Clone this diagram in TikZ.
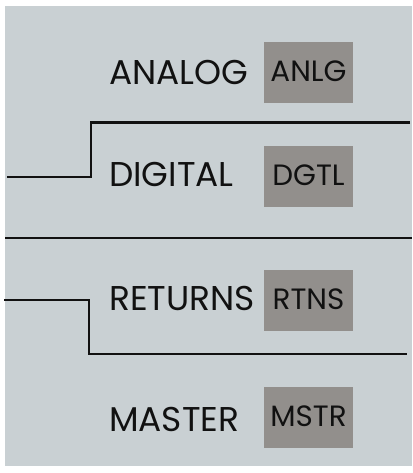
\documentclass[tikz,border=0pt]{standalone}
\usepackage{fontspec}
\setmainfont{Poppins}
\definecolor{panel}{HTML}{C9D0D3}
\definecolor{tagbg}{HTML}{928F8C}
\definecolor{ink}{HTML}{111111}
\begin{document}
\begin{tikzpicture}[x=1bp,y=-1bp,
  title/.style={anchor=base west,inner sep=0pt,text=ink,font=\fontsize{34.5}{34.5}\selectfont},
  tag/.style={fill=tagbg,minimum width=89bp,minimum height=61bp,inner sep=0pt,text=ink,
    text height=18bp,text depth=0pt,font=\fontsize{29.5}{29.5}\selectfont},
  wire/.style={draw=ink,line width=2.8bp}]
\useasboundingbox (0,0) rectangle (412,473);
\fill[white] (0,0) rectangle (412,473);
\fill[panel] (5,6) rectangle (412,466);
% labels
\node[title] (analog) at (109,85) {ANALOG};
\node[title] (digital) at (109,187) {DIGITAL};
\node[title] (returns) at (109,310) {RETURNS};
\node[title] (master) at (109,431) {MASTER};
\node[tag] (anlg) at (308.5,72.5) {ANLG};
\node[tag] (dgtl) at (308.5,176.5) {DGTL};
\node[tag] (rtns) at (308.5,300.5) {RTNS};
\node[tag] (mstr) at (308.5,417.5) {MSTR};
% wires
\coordinate (w1a) at (410,122.5);
\coordinate (w1b) at (91,122.5);
\coordinate (w1c) at (91,177);
\coordinate (w1d) at (7,177);
\draw[wire] (w1a) -- (w1b) -- (w1c) -- (w1d);
\coordinate (w2a) at (5,238);
\coordinate (w2b) at (412,238);
\draw[wire] (w2a) -- (w2b);
\coordinate (w3a) at (4,300);
\coordinate (w3b) at (89,300);
\coordinate (w3c) at (89,354);
\coordinate (w3d) at (407,354);
\draw[wire] (w3a) -- (w3b) -- (w3c) -- (w3d);
\end{tikzpicture}
\end{document}
